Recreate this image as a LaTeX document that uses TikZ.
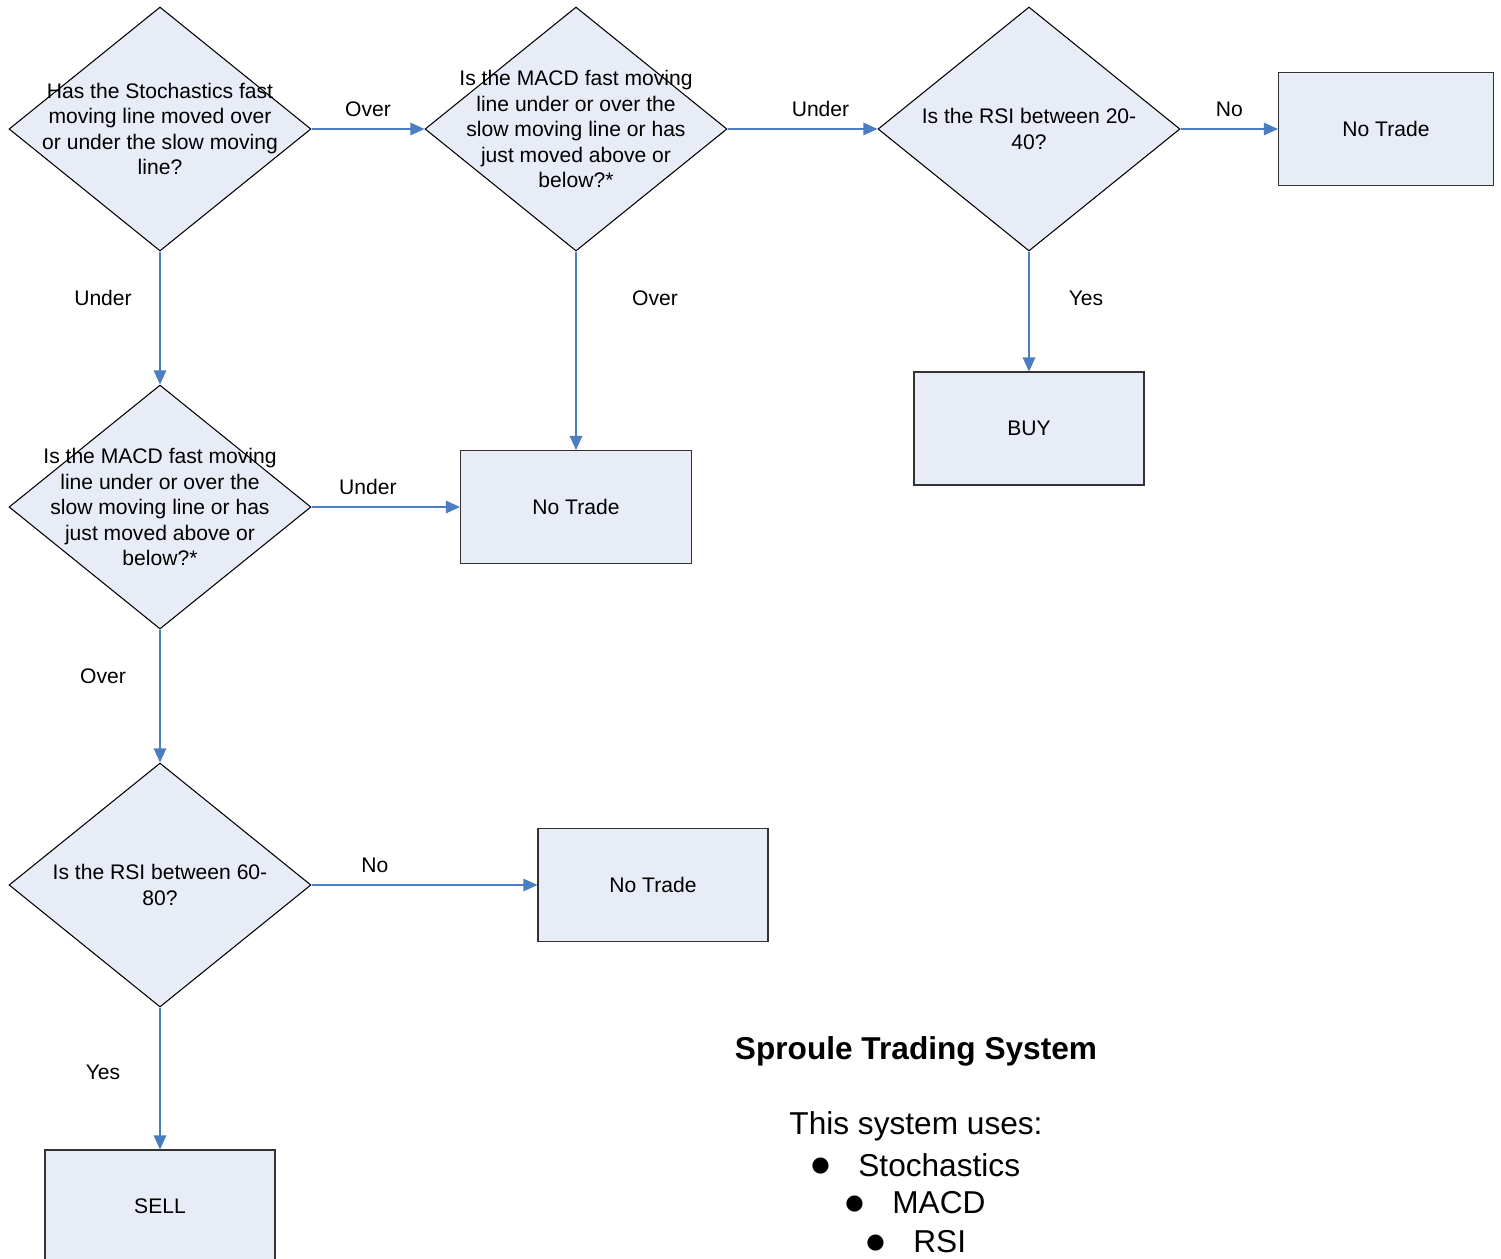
\documentclass[tikz,border=0pt]{standalone}
\usepackage{fontspec}
\setmainfont{Liberation Sans}
\newfontfamily\symfont{DejaVu Sans}
\usetikzlibrary{shapes.geometric,arrows.meta,positioning}
\definecolor{boxfill}{RGB}{231,236,247}
\definecolor{arblue}{RGB}{74,126,193}

\begin{document}
\begin{tikzpicture}[
  dc/.style={diamond,draw=black,line width=0.6pt,fill=boxfill,
    minimum width=6.04cm,minimum height=4.88cm,inner sep=0pt},
  bx/.style={rectangle,draw=black!80,line width=0.6pt,fill=boxfill,
    minimum width=4.6cm,minimum height=2.26cm,font=\fontsize{12}{14.5}\selectfont},
  qt/.style={align=center,inner sep=0pt,font=\fontsize{12}{14.5}\selectfont},
  ar/.style={-{Triangle[length=0.28cm,width=0.25cm]},arblue,line width=0.6pt},
  lb/.style={font=\fontsize{12}{14.5}\selectfont,inner sep=0pt,text=black},
  big/.style={font=\fontsize{18}{22}\selectfont,inner sep=0pt},
  ]
  \useasboundingbox (0,0) rectangle (30.02,-25.16);

  % top row
  \node at (3.2,-2.58) [dc,label={[qt]center:{Has the Stochastics fast\\
    moving line moved over\\or under the slow moving\\line?}}] (stoch) {};
  \node at (11.52,-2.58) [dc,label={[qt]center:{Is the MACD fast moving\\
    line under or over the\\slow moving line or has\\just moved above or\\below?*}}] (macdup) {};
  \node at (20.58,-2.58) [dc,label={[qt]center:{Is the RSI between 20-\\40?}}] (rsibuy) {};
  \node at (27.72,-2.58) [bx,minimum width=4.3cm] (nt1) {No Trade};

  % middle
  \node at (3.2,-10.14) [dc,label={[qt]center:{Is the MACD fast moving\\
    line under or over the\\slow moving line or has\\just moved above or\\below?*}}] (macddn) {};
  \node at (11.52,-10.14) [bx,minimum width=4.62cm] (nt2) {No Trade};
  \node at (20.58,-8.57) [bx] (buy) {BUY};

  % bottom
  \node at (3.2,-17.7) [dc,label={[qt]center:{Is the RSI between 60-\\80?}}] (rsisell) {};
  \node at (13.06,-17.7) [bx] (nt3) {No Trade};
  \node at (3.2,-24.13) [bx] (sell) {SELL};

  \draw (stoch.east) edge [ar] node[lb,pos=0.5,yshift=0.4cm] {Over} (macdup.west);
  \draw (macdup.east) edge [ar] node[lb,pos=0.62,yshift=0.4cm] {Under} (rsibuy.west);
  \draw (rsibuy.east) edge [ar] node[lb,pos=0.5,yshift=0.4cm] {No} (nt1.west);
  \draw (stoch.south) edge [ar] node[lb,pos=0.35,xshift=-1.14cm] {Under} (macddn.north);
  \draw (macdup.south) edge [ar] node[lb,pos=0.235,xshift=1.58cm] {Over} (nt2.north);
  \draw (rsibuy.south) edge [ar] node[lb,pos=0.39,xshift=1.14cm] {Yes} (buy.north);
  \draw (macddn.east) edge [ar] node[lb,pos=0.38,yshift=0.4cm] {Under} (nt2.west);
  \draw (macddn.south) edge [ar] node[lb,pos=0.35,xshift=-1.14cm] {Over} (rsisell.north);
  \draw (rsisell.east) edge [ar] node[lb,pos=0.28,yshift=0.4cm] {No} (nt3.west);
  \draw (rsisell.south) edge [ar] node[lb,pos=0.46,xshift=-1.14cm] {Yes} (sell.north);

  % legend
  \node at (18.32,-21.03) [big,font=\fontsize{18}{22}\selectfont\bfseries] (title) {Sproule Trading System};
  \node at (18.32,-22.53) [big] (uses) {This system uses:};
  \node at (16.22,-23.3) [big,anchor=west] (it1) {\makebox[0.94cm][l]{\raisebox{0.09cm}{\symfont\fontsize{12}{12}\selectfont ●}}Stochastics};
  \node at (16.9,-24.06) [big,anchor=west] (it2) {\makebox[0.94cm][l]{\raisebox{0.09cm}{\symfont\fontsize{12}{12}\selectfont ●}}MACD};
  \node at (17.32,-24.84) [big,anchor=west] (it3) {\makebox[0.94cm][l]{\raisebox{0.09cm}{\symfont\fontsize{12}{12}\selectfont ●}}RSI};
\end{tikzpicture}
\end{document}
